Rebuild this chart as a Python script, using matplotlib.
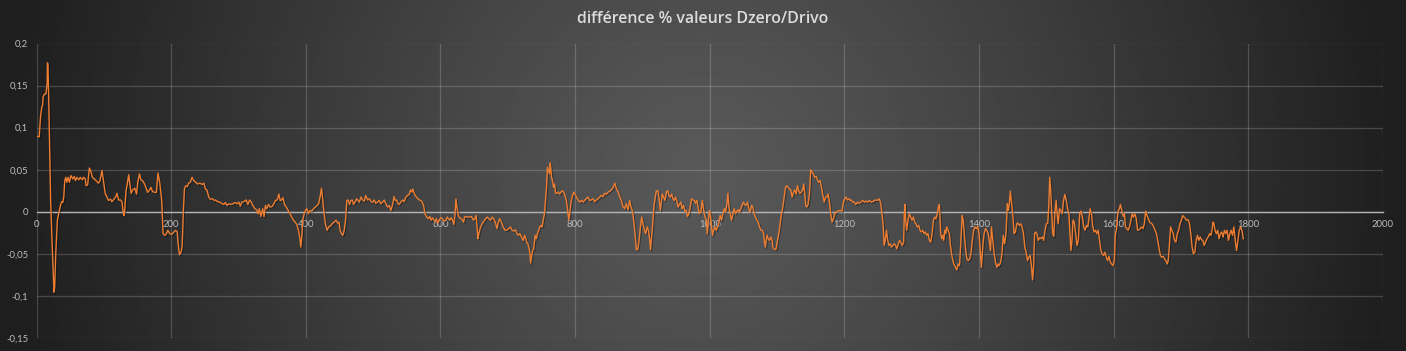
import numpy as np
import matplotlib
matplotlib.use("Agg")
import matplotlib.pyplot as plt
import matplotlib.patheffects as pe

# ---------------- data ----------------
title = "différence % valeurs Dzero/Drivo"
x_ticks = [0, 200, 400, 600, 800, 1000, 1200, 1400, 1600, 1800, 2000]
x_tick_labels = ["0", "200", "400", "600", "800", "1000", "1200", "1400", "1600", "1800", "2000"]
y_ticks = [-0.15, -0.1, -0.05, 0, 0.05, 0.1, 0.15, 0.2]
y_tick_labels = ["-0,15", "-0,1", "-0,05", "0", "0,05", "0,1", "0,15", "0,2"]

seg_0_220 = [
    (0, 0.0897), (4, 0.089), (6, 0.113), (8, 0.125), (9, 0.126), (10, 0.137), (12, 0.140), (14, 0.140),
    (15.8, 0.152), (16.3, 0.177), (17, 0.174), (18, 0.140), (19.3, 0.085), (21, 0.0135), (23, -0.034),
    (26, -0.0956), (27, -0.09), (28.6, -0.05), (31, -0.01), (33, -0.002), (36, 0.009), (37.5, 0.012),
    (39, 0.011), (40.5, 0.0175), (42, 0.037), (43.5, 0.041), (45, 0.035), (47, 0.041), (49, 0.035),
    (51, 0.043), (54, 0.039), (56, 0.042), (58, 0.037), (60, 0.041), (63, 0.038), (65, 0.041), (68, 0.038),
    (70, 0.041), (72.5, 0.039), (73.6, 0.031), (76, 0.032), (78.5, 0.052), (80.5, 0.049), (83, 0.041),
    (86, 0.039), (88.4, 0.037), (92, 0.034), (94.3, 0.037), (97.3, 0.049), (99, 0.039), (102, 0.022),
    (105, 0.017), (107, 0.0135), (110, 0.015), (112, 0.012), (115, 0.015), (117.5, 0.0175), (119.5, 0.022),
    (122, 0.014), (125, 0.014), (127, 0.0115), (129, -0.002), (130, -0.0045), (131, 0.0016), (133, 0.025),
    (135, 0.034), (137, 0.044), (139, 0.031), (140.7, 0.022), (143, 0.026), (146, 0.028), (148.6, 0.021),
    (150.6, 0.036), (153, 0.045), (155, 0.038), (157.5, 0.037), (160.5, 0.033), (162.5, 0.029), (165, 0.023),
    (168, 0.026), (170, 0.029), (172.3, 0.024), (176, 0.023), (178, 0.023), (180.5, 0.046), (183, 0.035),
    (186, 0.0135), (188, -0.026), (190.6, -0.028), (193, -0.026), (195, -0.022), (198, -0.026), (201, -0.027),
    (204, -0.024), (206.4, -0.022), (209, -0.024), (210.4, -0.038), (212.3, -0.051), (214.3, -0.049),
    (216.3, -0.042), (218, -0.002), (219.7, 0.027),
]

seg_220_642 = [
    (221.7, 0.031), (224, 0.030), (226, 0.034), (228.5, 0.035), (231, 0.041), (233.6, 0.037), (236.5, 0.035),
    (239.5, 0.033), (242.5, 0.034), (246, 0.0325), (248.5, 0.034), (251, 0.027), (253, 0.026), (256, 0.0175),
    (258, 0.015), (261, 0.0155), (264, 0.0135), (266, 0.014), (269, 0.012), (272, 0.0115), (275, 0.010),
    (278, 0.0087), (280.5, 0.011), (283, 0.0075), (286, 0.0095), (289, 0.0087), (292, 0.0095), (295, 0.011),
    (298, 0.0095), (300.7, 0.0115), (302.7, 0.0067), (305, 0.0115), (308, 0.012), (311.6, 0.014),
    (314, 0.0087), (316.5, 0.014), (319, 0.0115), (321.5, 0.0075), (324.4, 0.0036), (327, 0.0024),
    (329.4, -0.0024), (331, 0.0036), (333.3, -0.0056), (336, 0.0036), (338, -0.0056), (340, 0.0075),
    (342, 0.0036), (344.7, 0.0087), (347, 0.0056), (350, 0.0063), (352.6, 0.0095), (355, 0.0135),
    (357.5, 0.014), (360, 0.021), (362, 0.0135), (364, 0.014), (366, 0.0167), (368.4, 0.0087), (371, 0.0056),
    (373.8, 0.0016), (376.8, -0.0024), (379, -0.0063), (381.7, -0.010), (384, -0.012), (386.7, -0.015),
    (389, -0.022), (391, -0.030), (392.6, -0.042), (394, -0.030), (395.5, -0.010), (397.5, -0.0024),
    (399.5, 0.0016), (401.5, 0.0036), (404, -0.0024), (406.4, 0.0016), (409, 0.0008), (411.4, 0.0036),
    (414.4, 0.0056), (417, 0.0075), (419, 0.0095), (421.3, 0.018), (423.3, 0.028), (425.3, 0.0135),
    (427.2, -0.0024), (429, -0.0135), (431.6, -0.022), (434, -0.018), (436.5, -0.017), (439, -0.0143),
    (442, -0.0123), (445, -0.010), (447.4, -0.0135), (449.4, -0.0123), (451, -0.022), (453, -0.026),
    (455, -0.028), (457, -0.022), (459, -0.010), (461, 0.0135), (463, 0.014), (465, 0.0087), (467, 0.0135),
    (469, 0.014), (471, 0.0087), (473, 0.0115), (475.6, 0.0155), (477.5, 0.0135), (479.5, 0.0115),
    (482, 0.0175), (484.5, 0.014), (487, 0.0127), (489, 0.0194), (492, 0.014), (494.5, 0.0155), (497, 0.012),
    (499.5, 0.0115), (501.7, 0.014), (504, 0.010), (506.6, 0.0115), (509, 0.0135), (511.5, 0.0095),
    (514, 0.0115), (516.5, 0.014), (519, 0.0095), (521.5, 0.0056), (524, 0.0075), (526.4, 0.0016),
    (529, 0.0087), (531, 0.018), (533, 0.0135), (535, 0.014), (536.8, 0.010), (539, 0.0087), (541, 0.0115),
    (543.7, 0.014), (546, 0.012), (548.6, 0.0175), (551, 0.0194), (553.6, 0.0206), (555.5, 0.026),
    (557.5, 0.0234), (559, 0.027), (560.5, 0.0234), (562.5, 0.0194), (564.4, 0.0175), (566.5, 0.0155),
    (568.5, 0.014), (570.6, 0.0135), (573, 0.0115), (575, 0.0075), (577, -0.0024), (579.7, -0.0063),
    (582, -0.0083), (584, -0.0056), (586, -0.010), (588, -0.0071), (590, -0.0095), (592, -0.0115),
    (594, -0.0083), (596, -0.0135), (598, -0.010), (600.5, -0.0071), (603, -0.0083), (605.4, -0.0111),
    (608, -0.010), (610, -0.0063), (612, -0.0083), (614, -0.010), (616, -0.0071), (618, -0.010),
    (620, -0.015), (621.7, -0.0024), (623, 0.015), (624.5, 0.0056), (626.5, -0.0044), (628.5, -0.0071),
    (630.5, -0.0083), (632.5, -0.010), (634.5, -0.0123), (635.6, -0.0063), (637.5, -0.0056), (641, -0.0063),
]

seg_642_1000 = [
    (644, -0.0063), (646, -0.0056), (649, -0.010), (651, -0.0083), (653, -0.0044), (655.7, -0.032),
    (657, -0.026), (659.6, -0.018), (662, -0.0143), (664.5, -0.0111), (667, -0.0083), (669.5, -0.0063),
    (672, -0.0083), (674.4, -0.010), (677, -0.0063), (679, -0.0083), (681.5, -0.0123), (684, -0.020),
    (686, -0.0123), (688, -0.0083), (690.5, -0.0123), (693, -0.0175), (696, -0.022), (699, -0.0214),
    (701.6, -0.020), (704, -0.018), (706.5, -0.022), (709, -0.023), (711.5, -0.0214), (713.5, -0.026),
    (716, -0.028), (718, -0.026), (720.4, -0.030), (723, -0.034), (725, -0.028), (726.5, -0.031),
    (728, -0.036), (729.8, -0.038), (731.8, -0.044), (733, -0.050), (734, -0.061), (735.5, -0.052),
    (737, -0.046), (738.5, -0.044), (740.7, -0.028), (742.5, -0.032), (744, -0.026), (746, -0.022),
    (747.6, -0.018), (749.5, -0.0163), (751, -0.018), (752.5, -0.010), (754.5, -0.0024), (756, 0.0135),
    (757.5, 0.029), (759, 0.053), (760.5, 0.049), (762, 0.045), (763, 0.058), (764, 0.051), (765, 0.041),
    (766.4, 0.037), (768, 0.029), (769.5, 0.033), (771, 0.022), (773, 0.022), (775, 0.0234), (777, 0.021),
    (779, 0.0234), (781, 0.025), (783, 0.0234), (785, 0.0194), (787, 0.0135), (789, 0.0016), (790.6, -0.010),
    (792, -0.0024), (793.5, 0.0095), (795.5, 0.0175), (798, 0.0234), (800, 0.021), (802, 0.0175),
    (804.5, 0.014), (807, 0.0115), (809.4, 0.0135), (812, 0.0115), (814, 0.0135), (816.5, 0.0155),
    (819, 0.0175), (821.5, 0.0135), (824, 0.014), (826.5, 0.0155), (829, 0.012), (831.5, 0.014),
    (834, 0.0155), (836.5, 0.0175), (839, 0.0194), (841.5, 0.018), (844, 0.022), (846.5, 0.021),
    (849, 0.0234), (851.5, 0.0246), (854, 0.026), (856.5, 0.029), (859, 0.034), (861.5, 0.027),
    (864, 0.0234), (866.5, 0.0175), (868.7, 0.0135), (871, 0.0063), (873.7, 0.0036), (876, 0.0095),
    (878.6, 0.0024), (881, 0.0135), (883, 0.0056), (885, 0.0016), (887, -0.010), (889, -0.026), (891, -0.045),
    (893, -0.045), (895, -0.034), (897, -0.018), (899, -0.0063), (901, -0.015), (903, -0.022), (905, -0.026),
    (907, -0.018), (909, -0.022), (911, -0.034), (912, -0.045), (914, -0.026), (915.7, -0.010),
    (917, 0.0056), (918.7, 0.0155), (920.6, 0.0246), (923, 0.025), (925, 0.0135), (926.6, 0.0016),
    (928, 0.0115), (929.5, 0.021), (931.5, 0.0175), (933.5, 0.0135), (935.5, 0.0234), (937.5, 0.025),
    (939.5, 0.0194), (941.4, 0.0175), (943.4, 0.021), (945.4, 0.0155), (947.4, 0.0135), (949, 0.0175),
    (951, 0.0135), (953, 0.0056), (955, 0.0087), (957, 0.0115), (959, 0.0036), (961, 0.0075), (963, 0.0008),
    (965, 0.0016), (967, -0.0056), (969, -0.0024), (971, 0.0056), (973, 0.0155), (975, 0.014), (977, 0.0135),
    (979, 0.010), (981, 0.0135), (983, 0.0036), (985, -0.0024), (987, 0.0008), (989, 0.0135), (991, 0.0016),
    (993, -0.0063), (995, -0.010), (996.3, -0.026), (998, -0.010), (999.8, 0.0016),
]

seg_1000_1335 = [
    (1001.3, -0.0063), (1002.7, -0.018), (1004.2, -0.028), (1005.7, -0.022), (1007.6, -0.018),
    (1009.6, -0.022), (1011.6, -0.018), (1013.6, -0.0123), (1015.5, -0.0044), (1017.5, -0.010),
    (1019.5, -0.0024), (1021.5, 0.0036), (1023.5, -0.0004), (1025.5, 0.0095), (1027, 0.022), (1028.5, 0.0056),
    (1030.4, -0.0024), (1032.4, -0.010), (1034.4, -0.0024), (1036.4, 0.0036), (1038.3, -0.0024),
    (1040.3, 0.0008), (1042.3, 0.0024), (1044.3, -0.0004), (1046, 0.0036), (1048, 0.0075), (1050, 0.0115),
    (1052, 0.0087), (1054, 0.0075), (1056, 0.0115), (1058, 0.0036), (1060, -0.0004), (1062, 0.0075),
    (1064, 0.0056), (1066, -0.0024), (1068, -0.0063), (1070, -0.010), (1072, -0.0123), (1074, -0.018),
    (1076, -0.022), (1078, -0.022), (1080, -0.026), (1081, -0.034), (1082.5, -0.042), (1083.8, -0.034),
    (1085.3, -0.028), (1086.8, -0.032), (1088.7, -0.034), (1090.7, -0.030), (1092.6, -0.034), (1094, -0.043),
    (1095.5, -0.044), (1097, -0.045), (1098.6, -0.044), (1100.6, -0.034), (1102.6, -0.026), (1104.6, -0.0143),
    (1106.5, -0.0024), (1108.5, 0.0056), (1110.5, 0.0175), (1112.5, 0.029), (1114.5, 0.031), (1116.4, 0.029),
    (1118.4, 0.027), (1120.4, 0.026), (1122.4, 0.0175), (1124.4, 0.0234), (1126.3, 0.026), (1128.3, 0.021),
    (1130.3, 0.031), (1132.3, 0.025), (1134, 0.022), (1136, 0.0234), (1138, 0.026), (1139.6, 0.033),
    (1141, 0.022), (1142.6, 0.0075), (1144, 0.0056), (1146, 0.0087), (1148, 0.021), (1150, 0.050),
    (1152, 0.047), (1154, 0.045), (1156, 0.041), (1158, 0.042), (1160, 0.038), (1162, 0.035), (1164, 0.037),
    (1166, 0.029), (1168, 0.0194), (1170, 0.0115), (1172, 0.0175), (1174, 0.0175), (1175.8, 0.021),
    (1177.8, 0.0115), (1179.7, -0.0024), (1181.7, -0.0123), (1183.7, -0.0083), (1185.7, -0.0024),
    (1187.7, -0.0004), (1190.6, 0.0008), (1193.6, 0.0016), (1196.5, 0.0008), (1198.5, 0.0115),
    (1200.5, 0.0155), (1202.5, 0.0175), (1204.5, 0.014), (1206.5, 0.0155), (1208.5, 0.0135), (1210, 0.014),
    (1212, 0.0115), (1214, 0.012), (1217, 0.0087), (1219.5, 0.0115), (1222, 0.010), (1224.5, 0.0115),
    (1227, 0.0135), (1230, 0.0115), (1232, 0.0127), (1234.5, 0.0115), (1237, 0.0135), (1239.5, 0.0115),
    (1242, 0.012), (1244.5, 0.0135), (1247, 0.014), (1249.5, 0.0135), (1252, 0.0155), (1254, 0.0095),
    (1256, -0.0024), (1257.7, -0.018), (1259, -0.040), (1260.7, -0.034), (1262.5, -0.022), (1264, -0.032),
    (1266, -0.040), (1268, -0.038), (1270, -0.042), (1272, -0.040), (1274, -0.038), (1276, -0.040),
    (1278, -0.044), (1280, -0.038), (1282, -0.034), (1284, -0.037), (1286, -0.040), (1288, -0.036),
    (1289, -0.0024), (1290, 0.0087), (1291, -0.010), (1292.5, -0.022), (1294.5, -0.010), (1296.5, -0.0024),
    (1298.5, -0.0063), (1300.5, -0.010), (1302.5, -0.0063), (1304.5, -0.0123), (1306.4, -0.0143),
    (1308.4, -0.018), (1310.4, -0.0163), (1312.3, -0.022), (1314.3, -0.024), (1316.3, -0.022),
    (1318.3, -0.026), (1320.3, -0.024), (1322.3, -0.028), (1324.2, -0.026), (1326.2, -0.034),
    (1328.2, -0.036), (1330.2, -0.026), (1332.2, -0.010), (1334.2, -0.0063),
]

seg_1335_1565 = [
    (1336, -0.0083), (1338, -0.0024), (1339.5, 0.0056), (1341, 0.0087), (1342, -0.0063), (1343, -0.026),
    (1344.6, -0.032), (1346, -0.028), (1347.6, -0.034), (1349, -0.022), (1350.6, -0.026), (1352, -0.018),
    (1354, -0.022), (1356, -0.026), (1357.5, -0.040), (1360, -0.054), (1362.4, -0.062), (1365, -0.066),
    (1367, -0.069), (1369, -0.062), (1371, -0.064), (1372, -0.050), (1373.5, -0.026), (1375, -0.0044),
    (1376.5, -0.010), (1378, -0.026), (1380, -0.044), (1382, -0.056), (1384, -0.058), (1386, -0.056),
    (1388, -0.050), (1390, -0.034), (1392, -0.022), (1394, -0.018), (1396, -0.020), (1398, -0.0175),
    (1400, -0.026), (1401.5, -0.042), (1403.5, -0.066), (1405.5, -0.042), (1407.5, -0.026), (1409.5, -0.020),
    (1411.5, -0.022), (1413.5, -0.026), (1415.5, -0.036), (1417, -0.046), (1418.5, -0.018), (1420.5, -0.034),
    (1422.5, -0.050), (1424.5, -0.060), (1426.5, -0.066), (1428.5, -0.062), (1430, -0.064), (1432, -0.060),
    (1434, -0.050), (1436, -0.028), (1438, -0.038), (1440, -0.026), (1442, 0.0095), (1443.5, 0.0016),
    (1445, 0.0095), (1446.5, 0.0246), (1448, 0.0135), (1450, -0.0024), (1452, -0.026), (1454, -0.024),
    (1456, -0.0143), (1458, -0.0135), (1460, -0.0163), (1462, -0.0143), (1464, -0.018), (1466, -0.026),
    (1468, -0.042), (1470, -0.048), (1472, -0.058), (1474, -0.054), (1476, -0.052), (1478, -0.066),
    (1479.5, -0.081), (1481, -0.066), (1482.5, -0.026), (1484, -0.024), (1486, -0.026), (1488, -0.034),
    (1490, -0.031), (1492, -0.032), (1494, -0.030), (1496, -0.034), (1498, -0.022), (1500, -0.0143),
    (1502, -0.0135), (1503.5, 0.0056), (1505, 0.041), (1506.5, 0.025), (1508, -0.0024), (1509.5, -0.026),
    (1511, -0.029), (1512.5, -0.0024), (1514.5, 0.0135), (1516, -0.0024), (1517.5, -0.0143), (1519.5, 0.0036),
    (1521.5, 0.0016), (1523.5, -0.0024), (1525.5, 0.0135), (1527.5, 0.0206), (1529.5, 0.0135),
    (1531.5, 0.0036), (1533.5, -0.0024), (1535, -0.026), (1536.5, -0.046), (1538, -0.034), (1539.5, -0.010),
    (1541.5, -0.0123), (1543.5, -0.026), (1545.5, -0.040), (1547.5, -0.034), (1549.5, -0.0024),
    (1551.5, 0.0008), (1553.5, -0.0063), (1555.5, -0.018), (1557.5, -0.022), (1559.5, -0.0163),
    (1561.5, -0.018), (1563.5, -0.0063),
]

seg_1565_1792 = [
    (1565, 0.0036), (1567, -0.0024), (1569, -0.018), (1571, -0.024), (1573, -0.022), (1575, -0.026),
    (1577, -0.022), (1579, -0.034), (1581, -0.046), (1583, -0.050), (1585, -0.052), (1587, -0.048),
    (1589, -0.054), (1591, -0.058), (1593, -0.053), (1595, -0.060), (1597, -0.062), (1599, -0.064),
    (1601, -0.058), (1602.5, -0.026), (1604, -0.022), (1605.5, -0.0063), (1607, 0.0016), (1608.5, 0.0036),
    (1610, 0.0087), (1611.5, 0.0036), (1613, -0.0024), (1614.5, -0.0056), (1616, -0.0024), (1617.5, -0.018),
    (1619.5, -0.020), (1621.5, -0.022), (1623.5, -0.018), (1625.5, -0.010), (1627.5, -0.0024),
    (1629.5, -0.0063), (1631.5, -0.0024), (1633.5, -0.0083), (1635.5, -0.022), (1637.5, -0.0214),
    (1639.5, -0.020), (1641.5, -0.018), (1643.5, -0.020), (1645.5, -0.0143), (1647.5, 0.0008),
    (1649.5, -0.0044), (1651.5, -0.0083), (1653.5, -0.0123), (1655.5, -0.0135), (1657.5, -0.015),
    (1659.5, -0.018), (1661.5, -0.022), (1663.5, -0.026), (1665.5, -0.034), (1667.5, -0.044),
    (1669.5, -0.052), (1671.5, -0.054), (1673.5, -0.053), (1675.5, -0.056), (1677.5, -0.058),
    (1679.5, -0.062), (1681, -0.058), (1682.5, -0.042), (1684.5, -0.018), (1686.5, -0.022), (1688.5, -0.026),
    (1690.5, -0.034), (1692.5, -0.036), (1694.5, -0.026), (1696.5, -0.022), (1698.5, -0.0143),
    (1700.5, -0.010), (1702.5, -0.0044), (1704.5, -0.0063), (1706.5, -0.0083), (1708.5, -0.010),
    (1710.5, -0.0095), (1712.5, -0.0135), (1714.5, -0.026), (1716.5, -0.042), (1718.5, -0.050),
    (1720.5, -0.048), (1722.5, -0.034), (1724.5, -0.028), (1726.5, -0.034), (1728.5, -0.030),
    (1730.5, -0.0333), (1732.5, -0.034), (1734.5, -0.040), (1736.5, -0.036), (1738.5, -0.032),
    (1740.5, -0.030), (1742.5, -0.026), (1744.5, -0.028), (1746, -0.022), (1747.5, -0.0123), (1749, -0.0143),
    (1750.5, -0.022), (1752.5, -0.026), (1754.5, -0.022), (1756.5, -0.032), (1758.5, -0.026),
    (1760.5, -0.024), (1762.5, -0.030), (1764.5, -0.022), (1766.5, -0.026), (1768.5, -0.022),
    (1770.5, -0.034), (1772.5, -0.026), (1774.5, -0.022), (1776.5, -0.028), (1778.5, -0.018),
    (1780.5, -0.034), (1782.5, -0.046), (1784.5, -0.034), (1786.5, -0.022), (1788.5, -0.018),
    (1790.5, -0.022), (1792.5, -0.032),
]

points = seg_0_220 + seg_220_642 + seg_642_1000 + seg_1000_1335 + seg_1335_1565 + seg_1565_1792
xs = [p[0] for p in points]
ys = [p[1] for p in points]

# ---------------- figure ----------------
W, H = 1406, 351
fig = plt.figure(figsize=(W / 100, H / 100), dpi=100)

# background radial-ish gradient
bg = fig.add_axes([0, 0, 1, 1], zorder=-10)
bg.axis("off")
gx = np.linspace(-1, 1, 400)
gy = np.linspace(-1, 1, 120)
U, V = np.meshgrid(gx, gy)
r = np.clip(np.sqrt(U ** 2 + (0.25 * V) ** 2), 0, 1)
lvl = (89 - 59 * r ** 1.15) / 255.0
bg.imshow(lvl, cmap="gray", vmin=0, vmax=1, aspect="auto", extent=[0, 1, 0, 1],
          interpolation="bilinear")
bg.set_xlim(0, 1)
bg.set_ylim(0, 1)

left, right = 36.5 / W, 1383 / W
bottom, top = (H - 338) / H, (H - 43.5) / H
ax = fig.add_axes([left, bottom, right - left, top - bottom])
ax.set_facecolor("none")
ax.set_xlim(0, 2000)
ax.set_ylim(-0.15, 0.2)

ax.set_xticks(x_ticks)
ax.set_xticklabels(x_tick_labels)
ax.set_yticks(y_ticks)
ax.set_yticklabels(y_tick_labels)

for s in ["top", "right", "left"]:
    ax.spines[s].set_visible(False)
ax.spines["bottom"].set_position(("data", 0))
ax.spines["bottom"].set_color("#b4b4b4")
ax.spines["bottom"].set_linewidth(1.0)
ax.spines["bottom"].set_zorder(1.5)

ax.grid(True, color="#ffffff", alpha=0.18, linewidth=0.9)
ax.set_axisbelow(True)
ax.tick_params(axis="both", length=0, colors="#bdbdbd", labelsize=6.8)
ax.tick_params(axis="x", pad=6.0)
ax.tick_params(axis="y", pad=6.0)
for lab in ax.get_xticklabels() + ax.get_yticklabels():
    lab.set_family("Lato")

ax.plot(xs, ys, color="#ED7D31", linewidth=1.0, zorder=3,
        path_effects=[pe.SimpleLineShadow(offset=(0.8, -0.8), shadow_color="black", alpha=0.35),
                      pe.Normal()])

fig.text(0.5, 1 - 19 / H, title, ha="center", va="center", fontsize=11.4,
         color="#dcdcdc", fontweight=600, family="Open Sans")

fig.savefig("out.png", dpi=100)
